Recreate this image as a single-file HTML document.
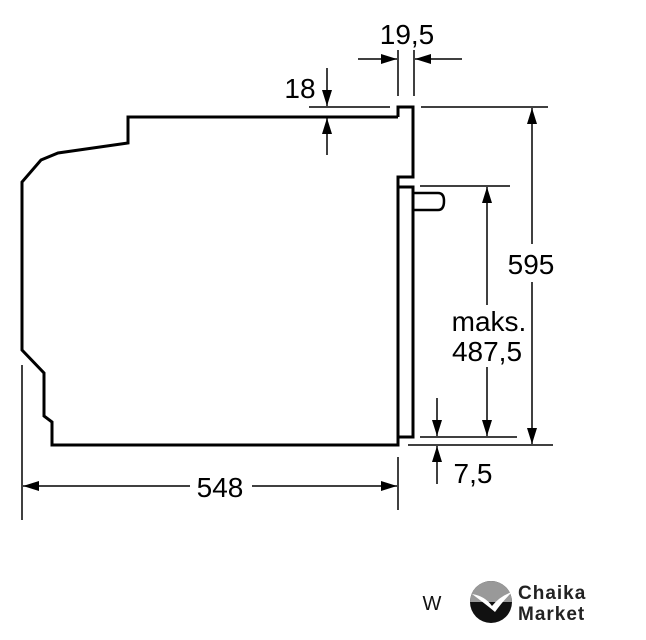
<!DOCTYPE html>
<html><head><style>body{margin:0;background:#fff}svg{display:block}</style></head><body>
<svg width="646" height="640" viewBox="0 0 646 640" xmlns="http://www.w3.org/2000/svg" font-family="Liberation Sans, sans-serif">
<defs>
<marker id="a" viewBox="0 0 16 10" refX="16" refY="5" markerWidth="16" markerHeight="10" markerUnits="userSpaceOnUse" orient="auto"><path d="M0,0 L16,5 L0,10 z" fill="#000"/></marker>
</defs>
<g fill="none" stroke="#000" stroke-width="3">
<path d="M398,117 L128,117 L128,143 L58,153 L41,160 L22,182 L22,350 L44,373 L44,416 L52,422 L52,445 L398,445 L398,437 L413,437 L413,187 L398,187 L398,177 L413,177 L413,107 L398,107 L398,117"/>
<line x1="398" y1="187" x2="398" y2="437"/>
<path d="M413,193 L438,193 Q444,193 444,201 Q444,210 438,210 L413,210" stroke-width="2.5"/>
</g>
<g stroke="#000" stroke-width="1.5" fill="none">
<line x1="398" y1="50" x2="398" y2="96"/><line x1="414" y1="50" x2="414" y2="96"/>
<line x1="358" y1="59" x2="397" y2="59" marker-end="url(#a)"/>
<line x1="462" y1="59" x2="415" y2="59" marker-end="url(#a)"/>
<line x1="309" y1="107" x2="390" y2="107"/>
<line x1="327" y1="68" x2="327" y2="106" marker-end="url(#a)"/>
<line x1="327" y1="155" x2="327" y2="118" marker-end="url(#a)"/>
<line x1="421" y1="107" x2="548" y2="107"/>
<line x1="532" y1="300" x2="532" y2="108" marker-end="url(#a)"/>
<line x1="532" y1="300" x2="532" y2="444" marker-end="url(#a)"/>
<line x1="408" y1="445" x2="553" y2="445"/>
<line x1="420" y1="186" x2="510" y2="186"/>
<line x1="487" y1="300" x2="487" y2="187" marker-end="url(#a)"/>
<line x1="487" y1="300" x2="487" y2="436" marker-end="url(#a)"/>
<line x1="420" y1="437" x2="517" y2="437"/>
<line x1="437" y1="398" x2="437" y2="436" marker-end="url(#a)"/>
<line x1="437" y1="484" x2="437" y2="446" marker-end="url(#a)"/>
<line x1="22" y1="365" x2="22" y2="520"/>
<line x1="398" y1="457" x2="398" y2="510"/>
<line x1="200" y1="486" x2="23" y2="486" marker-end="url(#a)"/>
<line x1="200" y1="486" x2="397" y2="486" marker-end="url(#a)"/>
</g>
<rect x="190" y="472" width="62" height="30" fill="#fff"/>
<rect x="504" y="244" width="54" height="38" fill="#fff"/>
<rect x="446" y="305" width="84" height="62" fill="#fff"/>
<g font-size="28" fill="#000">
<text x="407" y="44" text-anchor="middle">19,5</text>
<text x="300" y="98" text-anchor="middle">18</text>
<text x="531" y="274" text-anchor="middle">595</text>
<text x="489" y="331" text-anchor="middle">maks.</text>
<text x="487" y="361" text-anchor="middle">487,5</text>
<text x="473" y="483" text-anchor="middle">7,5</text>
<text x="220" y="497" text-anchor="middle">548</text>
</g>
<text x="432" y="610" font-size="20" text-anchor="middle" fill="#111">W</text>
<circle cx="491" cy="602" r="21" fill="#111"/>
<path d="M470,602 A21,21 0 0 1 512,602 Z" fill="#999"/>
<path d="M472,594 Q485,596 492,606 Q500,596 512,592 Q502,602 495,612 Q488,606 472,594Z" fill="#fff"/>
<text x="518" y="599" font-size="19" font-weight="bold" fill="#222" letter-spacing="1">Chaika</text>
<text x="518" y="620" font-size="19" font-weight="bold" fill="#222" letter-spacing="1">Market</text>
</svg>
</body></html>
